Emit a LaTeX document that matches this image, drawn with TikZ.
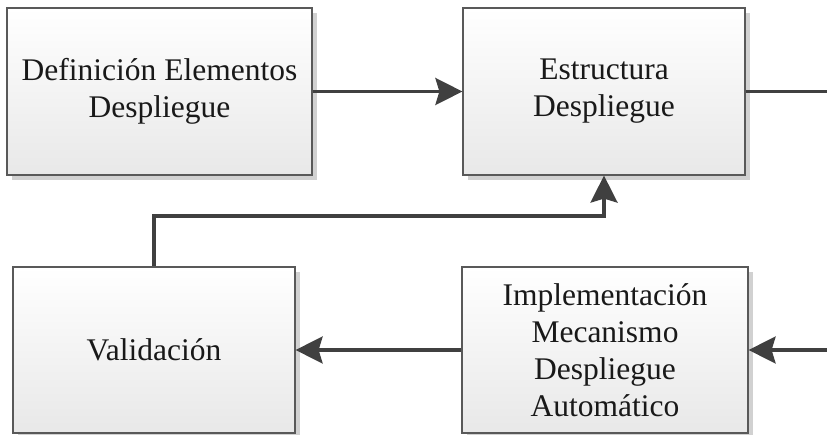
\documentclass[tikz,border=0pt]{standalone}
\usepackage{fontspec}
\setmainfont{Liberation Serif}
\usetikzlibrary{arrows.meta,shadows}
\begin{document}
\begin{tikzpicture}[x=1pt,y=-1pt,
  box/.style={draw=black!65, line width=1.2pt, top color=white, bottom color=black!9,
    drop shadow={shadow xshift=5pt, shadow yshift=-5pt, fill=black!30, opacity=0.6},
    inner sep=0pt, align=center, font=\fontsize{31.5}{37}\selectfont, text=black!90},
  conn/.style={line width=3.3pt, draw=black!75, -{Stealth[length=27pt,width=27pt,inset=4pt]}},
  plain/.style={line width=3.3pt, draw=black!75}]
\useasboundingbox (0,0) rectangle (827,435);
\node[box, minimum width=305pt, minimum height=167pt] (def) at (159.5,91.5) {Definición Elementos\\Despliegue};
\node[box, minimum width=282pt, minimum height=167pt] (est) at (604,91.5) {Estructura\\Despliegue};
\node[box, minimum width=282pt, minimum height=166pt] (val) at (154,350) {Validación};
\node[box, minimum width=286pt, minimum height=166pt] (imp) at (605,350) {Implementación\\Mecanismo\\Despliegue\\Automático};
\coordinate (outR) at (827,91.5);
\coordinate (inR) at (827,350);
\draw[conn] (def) -- (est);
\draw[plain] (est.east) -- (outR);
\draw[conn] (inR) -- (imp.east);
\draw[conn] (imp) -- (val);
\draw[conn] (val.north) |- (216,216) -| (est.south);
\end{tikzpicture}
\end{document}
